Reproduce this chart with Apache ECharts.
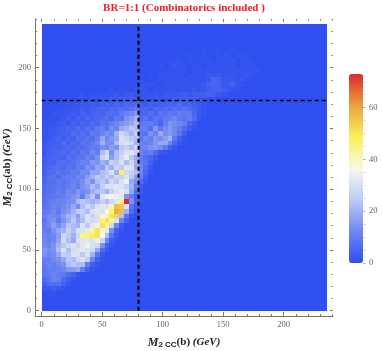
<!DOCTYPE html>
<html lang="en">
<head>
  <meta charset="UTF-8">
  <title>BR=1:1</title>
  <style>
    html,body{margin:0; padding:0; background:#fff}
    #box{width:382px; height:351px}
  </style>
  <script src="https://cdn.jsdelivr.net/npm/echarts@6/dist/echarts.min.js"></script>
  <script>
    // counts per 4 GeV bin. rows go bottom to top, missing cells are 0
    const binSize = 4;
    const binCount = 59;
    const cellRows = [
      [],
      [],
      [],
      [0,1,1],
      [2,2,3,2,1],
      [4,6,6,7,4,1],
      [6,8,11,10,6,3,1],
      [8,9,11,10,9,6,4,1],
      [8,10,10,11,12,15,16,18,10,4,1],
      [9,11,10,12,14,22,24,22,22,10,3,1],
      [10,10,12,14,18,24,22,28,30,26,12,4,1],
      [14,12,13,18,26,24,30,30,24,30,20,8,2],
      [15,13,14,22,30,22,29,30,32,30,28,18,6,2],
      [13,11,14,20,24,27,30,27,32,34,30,28,14,4,1],
      [12,10,12,17,28,22,18,30,31,32,30,34,28,12,3,1],
      [11,10,12,16,27,24,20,27,44,46,48,50,36,22,8,2],
      [10,9,14,18,20,26,22,30,30,32,42,50,38,32,14,4,1],
      [9,12,16,13,17,24,22,20,30,24,32,34,50,44,28,12,3],
      [8,12,14,10,14,18,24,18,22,30,28,30,46,50,42,30,12,4],
      [10,13,12,11,16,20,22,16,24,30,26,30,38,40,50,52,22,8,2],
      [9,10,12,9,13,15,20,25,26,22,30,32,30,36,46,58,56,20,6,1],
      [8,9,11,10,12,14,18,13,22,28,24,30,32,30,40,56,54,30,8,3],
      [7,9,10,11,11,13,14,21,24,22,20,22,26,22,28,32,44,72,14,4,1],
      [7,8,9,9,10,12,14,16,10,18,24,14,32,34,36,34,32,14,10,4,1],
      [6,8,8,10,9,12,11,15,13,14,19,22,24,20,26,30,33,30,18,7,2],
      [6,7,8,9,8,10,12,9,14,16,22,18,26,30,30,32,30,26,20,10,3],
      [5,7,7,9,8,9,11,10,14,18,14,22,24,20,28,24,30,34,18,14,6,2],
      [5,7,8,6,9,10,9,12,11,16,20,24,22,26,22,28,26,30,24,16,10,3],
      [4,6,6,8,7,8,10,9,13,12,18,17,22,24,30,20,48,28,26,22,12,5,1],
      [4,5,6,7,6,8,7,10,9,14,12,18,16,24,20,28,24,31,30,18,12,6,2],
      [3,5,4,6,7,6,8,9,11,10,15,14,20,17,26,24,30,22,28,20,10,8,4,1],
      [3,4,5,5,4,7,6,8,8,11,9,14,26,30,16,22,28,33,24,18,10,7,5,2],
      [2,4,4,5,6,5,7,6,9,8,12,10,22,28,14,22,26,30,31,27,11,9,10,6,2,1],
      [2,3,4,4,5,6,5,7,6,8,10,9,14,12,16,14,24,26,22,28,10,12,14,15,13,9,4,2],
      [2,3,3,4,6,4,6,5,8,7,9,12,20,14,13,22,29,30,28,20,11,10,11,15,18,18,12,5,2],
      [1,2,3,4,3,5,4,7,6,8,7,10,18,12,15,18,30,28,24,22,8,12,10,15,13,16,20,9,3,1],
      [1,2,2,3,4,4,6,5,7,6,9,8,11,14,12,20,28,24,20,26,9,8,14,11,18,13,15,12,8,3],
      [1,1,2,3,3,5,4,6,5,7,6,9,10,8,13,11,18,20,24,22,10,11,7,15,9,13,15,12,10,6,3,1],
      [1,1,1,2,3,2,4,3,5,4,6,5,8,7,10,12,14,16,18,22,8,9,10,8,5,10,14,13,12,10,5,2],
      [0,1,1,1,2,3,2,4,3,5,4,5,6,7,5,9,8,14,16,20,6,8,5,8,7,9,10,12,9,8,10,6,2],
      [0,0,1,1,1,2,3,2,4,3,4,5,4,6,7,6,9,11,12,15,5,5,7,5,8,7,9,8,10,9,9,5,2,1],
      [0,0,0,1,1,1,2,2,3,2,3,4,5,4,6,5,7,6,8,9,4,5,3,6,5,6,5,7,6,8,6,4,2,1],
      [0,0,0,0,1,1,1,1,2,2,3,2,3,4,3,5,4,6,5,6,3,2,4,3,4,4,5,4,6,4,5,3,2,1],
      [0,0,0,0,0,1,0,1,1,1,2,1,2,2,3,2,3,3,4,3,2,1,2,2,2,2,2,3,3,4,3,3,3,2,1,1],
      [0,0,0,0,0,0,0,0,1,0,1,1,1,1,1,2,1,2,2,1,1,1,1,2,1,2,2,2,2,3,2,3,3,3,4,3,2,1,1],
      [0,0,0,0,0,0,0,0,0,0,0,0,0,0,1,0,1,1,0,1,1,1,0,1,1,1,1,1,1,1,1,2,1,2,3,4,4,3,2,1,1],
      [0,0,0,0,0,0,0,0,0,0,0,0,0,0,0,0,0,0,0,0,1,1,1,1,0,1,1,1,1,1,1,1,1,2,4,5,4,2,2,4,1,1],
      [0,0,0,0,0,0,0,0,0,0,0,0,0,0,0,0,0,0,0,0,0,0,0,0,1,1,1,1,1,1,1,1,1,1,2,5,4,2,2,2,1,2,1],
      [0,0,0,0,0,0,0,0,0,0,0,0,0,0,0,0,0,0,0,0,0,0,1,0,1,1,1,1,1,0,1,1,1,1,2,2,2,1,1,2,1,1,2,1],
      [0,0,0,0,0,0,0,0,0,0,0,0,0,0,0,0,0,0,0,0,0,0,0,0,0,0,1,1,1,1,0,1,1,1,1,1,1,1,1,1,1,1,1,1,1],
      [0,0,0,0,0,0,0,0,0,0,0,0,0,0,0,0,0,0,0,0,0,0,0,0,1,0,1,2,1,1,0,1,1,0,1,1,1,1,1,1,0,1,1,1],
      [0,0,0,0,0,0,0,0,0,0,0,0,0,0,0,0,0,0,0,0,0,0,0,0,0,0,1,1,1,0,1,0,0,1,1,0,1,1,1,1,0,1,1],
      [0,0,0,0,0,0,0,0,0,0,0,0,0,0,0,0,0,0,0,0,0,0,0,0,0,0,0,0,0,0,1,0,0,1,0,0,1,1,1,0,1,1],
      [0,0,0,0,0,0,0,0,0,0,0,0,0,0,0,0,0,0,0,0,0,0,0,0,0,0,0,0,0,0,0,0,0,1,0,0,1,0,0,1]
    ];
    const majorTicks = [0,50,100,150,200];
    const minorTicks = [0,10,20,30,40,50,60,70,80,90,100,110,120,130,140,150,160,170,180,190,200,210,220,230,240];
    const colorbarMajor = [0,20,40,60];
    const colorbarMinor = [0,5,10,15,20,25,30,35,40,45,50,55,60,65,70];
    const cutX = [[80,0],[80,236]];
    const cutY = [[0,173],[236,173]];
    const colors = ['#2f4ff0','#6f87f2','#bcc9f7','#f8f8ea','#fbf05a','#e9a23f','#d92b2b'];

    const labelFont = {fontFamily:'"Liberation Serif", serif', fontSize:8.5, color:'#666'};
    const nameRich = {
      m:{fontFamily:'"Liberation Serif", serif', fontSize:12, fontWeight:'bold', fontStyle:'italic', color:'#222'},
      s:{fontFamily:'"Liberation Sans", sans-serif', fontSize:8, fontWeight:'bold', color:'#222', padding:[5,0,0,0]},
      b:{fontFamily:'"Liberation Serif", serif', fontSize:11, fontWeight:'bold', color:'#222'},
      i:{fontFamily:'"Liberation Serif", serif', fontSize:11, fontWeight:'bold', fontStyle:'italic', color:'#222'}
    };

    function frameAxis(position, ticks, len, opts){
      return Object.assign({
        type:'value', position:position, min:opts.min, max:opts.max, gridIndex:0,
        axisLine:{show:false, onZero:false},
        axisTick:{show:true, inside:true, length:len, customValues:ticks, lineStyle:{color:'#777', width:1}},
        axisLabel:{show:false},
        splitLine:{show:false}
      }, opts.extra || {});
    }

    window.onload = function(){
      let cells = [];
      for (let r = 0; r < binCount; r++) {
        for (let c = 0; c < binCount; c++) {
          let row = cellRows[r] || [];
          cells.push([c * binSize, r * binSize, row[c] || 0]);
        }
      }

      const xRange = {min:-5.54, max:240.7};
      const yRange = {min:-4.36, max:240.1};
      const solidLine = {show:true, onZero:false, lineStyle:{color:'#777', width:1}};

      let chart = echarts.init(document.getElementById('box'));
      chart.setOption({
        animation:false,
        title:{
          text:'BR=1:1 (Combinatorics included )', left:184, top:3, textAlign:'center', padding:0,
          textStyle:{fontFamily:'"Liberation Serif", serif', fontSize:11, fontWeight:'bold', color:'#f01c28'}
        },
        grid:[
          {left:35, top:19, width:298, height:297, outerBoundsMode:'none'},
          {left:363, top:74, width:1, height:189, outerBoundsMode:'none'}
        ],
        xAxis:[
          frameAxis('bottom', majorTicks, 4, {min:xRange.min, max:xRange.max, extra:{
            axisLine:solidLine,
            axisLabel:Object.assign({show:true, customValues:majorTicks, margin:4}, labelFont),
            name:'{m|M}{s|2 CC}{b|(b) }{i|(GeV)}', nameLocation:'middle', nameGap:20, nameMoveOverlap:false,
            nameTextStyle:{rich:nameRich}
          }}),
          frameAxis('bottom', minorTicks, 2, {min:xRange.min, max:xRange.max}),
          frameAxis('top', majorTicks, 3, {min:xRange.min, max:xRange.max}),
          frameAxis('top', minorTicks, 1.5, {min:xRange.min, max:xRange.max}),
          {type:'value', gridIndex:1, min:0, max:1, show:false}
        ],
        yAxis:[
          frameAxis('left', majorTicks, 4, {min:yRange.min, max:yRange.max, extra:{
            axisLine:solidLine,
            axisLabel:Object.assign({show:true, customValues:majorTicks, margin:4}, labelFont),
            name:'{m|M}{s|2 CC}{b|(ab) }{i|(GeV)}', nameLocation:'middle', nameGap:21, nameMoveOverlap:false,
            nameTextStyle:{rich:nameRich}
          }}),
          frameAxis('left', minorTicks, 2, {min:yRange.min, max:yRange.max}),
          frameAxis('right', majorTicks, 3, {min:yRange.min, max:yRange.max}),
          frameAxis('right', minorTicks, 1.5, {min:yRange.min, max:yRange.max}),
          {
            type:'value', gridIndex:1, position:'right', min:0, max:73,
            axisLine:{show:false},
            axisTick:{show:true, length:3, customValues:colorbarMajor, lineStyle:{color:'#aaa'}},
            axisLabel:Object.assign({show:true, customValues:colorbarMajor, margin:5}, labelFont),
            splitLine:{show:false}
          },
          {
            type:'value', gridIndex:1, position:'right', min:0, max:73,
            axisLine:{show:false},
            axisTick:{show:true, length:1.5, customValues:colorbarMinor, lineStyle:{color:'#ccc'}},
            axisLabel:{show:false},
            splitLine:{show:false}
          }
        ],
        visualMap:{
          type:'continuous', seriesIndex:0, dimension:2, min:0, max:72,
          calculable:false, hoverLink:false, padding:0,
          left:349, top:74, itemWidth:14, itemHeight:189,
          text:null, showLabel:false,
          inRange:{color:colors}
        },
        series:[
          {
            type:'custom',
            xAxisIndex:0, yAxisIndex:0,
            data:cells,
            encode:{x:0, y:1},
            progressive:0,
            silent:true,
            renderItem:function(params, api){
              let a = api.coord([api.value(0), api.value(1) + binSize]);
              let b = api.coord([api.value(0) + binSize, api.value(1)]);
              let x0 = Math.round(a[0]), y0 = Math.round(a[1]);
              return {
                type:'rect',
                shape:{x:x0, y:y0, width:Math.round(b[0]) - x0, height:Math.round(b[1]) - y0},
                style:{fill:api.visual('color')}
              };
            }
          },
          {
            type:'line', xAxisIndex:0, yAxisIndex:0, data:cutX, symbol:'none', silent:true,
            lineStyle:{color:'#000', width:2, type:[4,3]}
          },
          {
            type:'line', xAxisIndex:0, yAxisIndex:0, data:cutY, symbol:'none', silent:true,
            lineStyle:{color:'#000', width:1.5, type:[4,3]}
          }
        ]
      });
    }
  </script>
</head>
<body>
  <div id="box"></div>
</body>
</html>
